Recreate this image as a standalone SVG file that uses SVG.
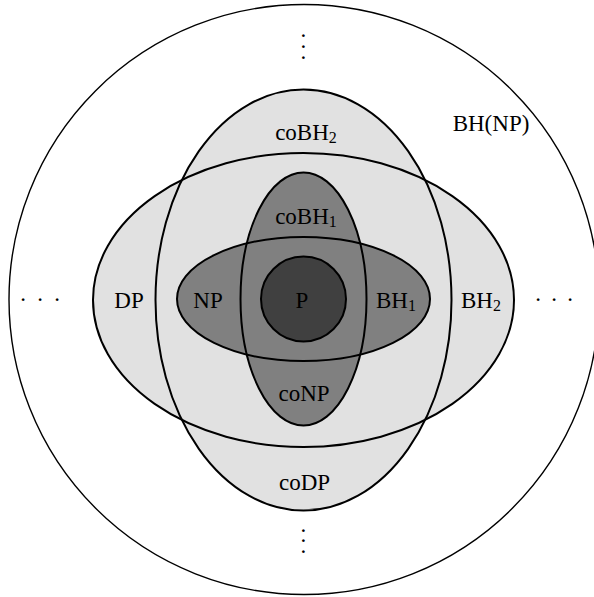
<svg xmlns="http://www.w3.org/2000/svg" width="594" height="597" viewBox="0 0 594 597">
<style>
.lbl{font-family:"Liberation Serif","DejaVu Serif",serif;font-size:23px;fill:#000;text-anchor:middle}
.sub{font-size:16px}
.edge{stroke:#000;stroke-width:2}
.light{fill:#e1e1e1}
.mid{fill:#808080}
.dark{fill:#404040}
</style>
<rect width="594" height="597" fill="#fff"/>
<g id="BH-NP">
<circle cx="304" cy="299.5" r="295" fill="#fff" stroke="#000" stroke-width="1.4"/>
<text class="lbl" x="491" y="131">BH(NP)</text>
</g>
<g id="big-fills">
<ellipse class="light" cx="303.5" cy="300" rx="210.5" ry="147"/>
<ellipse class="light" cx="303.5" cy="300" rx="148" ry="210.5"/>
</g>
<g id="DP-BH2">
<ellipse class="edge" fill="none" cx="303.5" cy="300" rx="210.5" ry="147"/>
<text class="lbl" x="129" y="308">DP</text>
<text class="lbl" x="481" y="308">BH<tspan class="sub" dy="3">2</tspan></text>
</g>
<g id="coBH2-coDP">
<ellipse class="edge" fill="none" cx="303.5" cy="300" rx="148" ry="210.5"/>
<text class="lbl" x="306" y="139.5">coBH<tspan class="sub" dy="3">2</tspan></text>
<text class="lbl" x="304.5" y="490">coDP</text>
</g>
<g id="inner-fills">
<ellipse class="mid" cx="303.5" cy="299" rx="126.5" ry="62"/>
<ellipse class="mid" cx="303.5" cy="299" rx="63" ry="126.5"/>
</g>
<g id="NP-BH1">
<ellipse class="edge" fill="none" cx="303.5" cy="299" rx="126.5" ry="62"/>
<text class="lbl" x="208" y="308">NP</text>
<text class="lbl" x="396" y="308">BH<tspan class="sub" dy="3">1</tspan></text>
</g>
<g id="coBH1-coNP">
<ellipse class="edge" fill="none" cx="303.5" cy="299" rx="63" ry="126.5"/>
<text class="lbl" x="306" y="224">coBH<tspan class="sub" dy="3">1</tspan></text>
<text class="lbl" x="304" y="400.5">coNP</text>
</g>
<g id="P">
<circle class="dark edge" cx="303.5" cy="299" r="42.5"/>
<text class="lbl" x="302" y="308">P</text>
</g>
<g id="ellipses">
<text class="lbl" x="23 40 57" y="301.3">...</text>
<text class="lbl" x="538 554 570" y="301.3">...</text>
<text class="lbl" x="303.3 303.3 303.3" y="37.3 48 58.6">...</text>
<text class="lbl" x="303.3 303.3 303.3" y="532 542 553">...</text>
</g>
</svg>
